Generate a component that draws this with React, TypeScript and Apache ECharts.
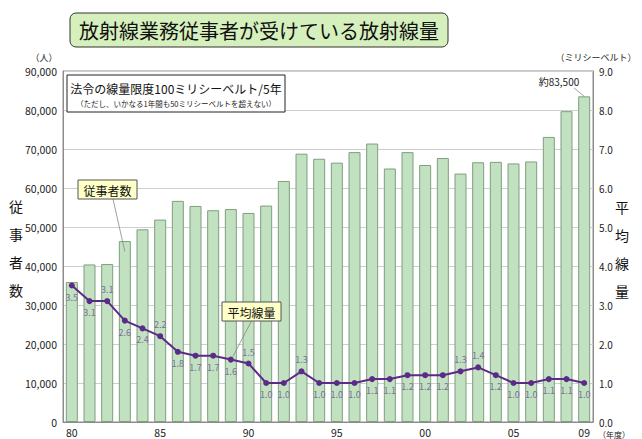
import { useEffect, useRef } from "react";
import * as echarts from "echarts";

const years = ["80","81","82","83","84","85","86","87","88","89","90","91","92","93","94","95","96","97","98","99","00","01","02","03","04","05","06","07","08","09"];
const workers = [35900, 40400, 40500, 46400, 49400, 51900, 56700, 55400, 54300, 54600, 53600, 55500, 61800, 68800, 67500, 66500, 69200, 71400, 65000, 69200, 65900, 67700, 63700, 66600, 66700, 66300, 66800, 73100, 79700, 83500];
const doses = [3.5, 3.1, 3.1, 2.6, 2.4, 2.2, 1.8, 1.7, 1.7, 1.6, 1.5, 1.0, 1.0, 1.3, 1.0, 1.0, 1.0, 1.1, 1.1, 1.2, 1.2, 1.2, 1.3, 1.4, 1.2, 1.0, 1.0, 1.1, 1.1, 1.0];
const doseLabelsAbove = [2, 5, 10, 13, 22, 23];
const shownYearTicks = [0, 5, 10, 15, 20, 25, 29];
const leftTicksMax = 90000;
const rightTicksMax = 9;
const titleText = "放射線業務従事者が受けている放射線量";
const limitText = "法令の線量限度100ミリシーベルト/5年";
const limitNote = "（ただし、いかなる1年間も50ミリシーベルトを超えない）";
const workersCallout = "従事者数";
const doseCallout = "平均線量";
const lastLabel = "約83,500";

const FONT = "'Noto Sans CJK JP', 'Noto Sans', sans-serif";

export default function App() {
  const ref = useRef<HTMLDivElement>(null);
  useEffect(() => {
    if (!ref.current) return;
    const chart = echarts.init(ref.current, null, { renderer: "svg" });
    const fmt = (v: number) => {
      const s = String(v);
      return s.length > 3 ? s.slice(0, s.length - 3) + "," + s.slice(s.length - 3) : s;
    };
    chart.setOption({
      animation: false,
      textStyle: { fontFamily: FONT },
      grid: { left: 63, right: 49, top: 71, bottom: 17, show: true, borderColor: "#8c8c8c", borderWidth: 1 },
      xAxis: {
        type: "category",
        data: years,
        axisLine: { lineStyle: { color: "#8c8c8c" } },
        axisTick: { show: false },
        axisLabel: {
          interval: (i: number) => shownYearTicks.includes(i),
          color: "#222",
          fontSize: 10.5,
          margin: 5,
          fontFamily: FONT,
        },
      },
      yAxis: [
        {
          type: "value",
          min: 0,
          max: leftTicksMax,
          interval: 10000,
          axisLine: { show: true, lineStyle: { color: "#8c8c8c" } },
          axisTick: { show: false },
          axisLabel: { formatter: (v: number) => fmt(v), color: "#222", fontSize: 10.5, margin: 6, fontFamily: FONT },
          splitLine: { lineStyle: { color: "#cfcfcf" } },
        },
        {
          type: "value",
          min: 0,
          max: rightTicksMax,
          interval: 1,
          axisLine: { show: true, lineStyle: { color: "#8c8c8c" } },
          axisTick: { show: false },
          axisLabel: { formatter: (v: number) => v.toFixed(1), color: "#222", fontSize: 10, margin: 6, fontFamily: FONT },
          splitLine: { show: false },
        },
      ],
      series: [
        {
          type: "bar",
          data: workers,
          barWidth: 12,
          itemStyle: { color: "#c1e1c1", borderColor: "#7f9f7f", borderWidth: 1 },
        },
        {
          type: "line",
          yAxisIndex: 1,
          data: doses.map((d, i) => ({
            value: d,
            label: { position: doseLabelsAbove.includes(i) ? "top" : "bottom" },
          })),
          lineStyle: { color: "#5c2a88", width: 2 },
          itemStyle: { color: "#5c2a88" },
          symbol: "circle",
          symbolSize: 6,
          label: {
            show: true,
            formatter: (p: any) => Number(p.value).toFixed(1),
            fontSize: 9,
            color: "#7c6f9c",
            distance: 4,
            fontFamily: FONT,
          },
        },
      ],
    });

    const p83 = chart.convertToPixel({ xAxisIndex: 0, yAxisIndex: 0 }, [3, workers[3] - 2700]) as number[];
    const p89 = chart.convertToPixel({ xAxisIndex: 0, yAxisIndex: 1 }, [9, doses[9]]) as number[];
    const pLast = chart.convertToPixel({ xAxisIndex: 0, yAxisIndex: 0 }, [29, workers[29]]) as number[];

    const vText = (s: string, x: number, y: number) =>
      s.split("").map((c, i) => ({
        type: "text",
        z: 50,
        x,
        y: y + i * 28,
        style: { text: c, fontSize: 14, fill: "#111", fontFamily: FONT, align: "center", verticalAlign: "middle" },
      }));

    chart.setOption({
      graphic: [
        { type: "rect", z: 50, shape: { x: 70, y: 13, width: 378, height: 34, r: 6 }, style: { fill: "#d6f0bd", stroke: "#333", lineWidth: 1 } },
        { type: "text", z: 51, x: 259, y: 30, style: { text: titleText, fontSize: 20, fill: "#111", fontFamily: FONT, align: "center", verticalAlign: "middle" } },
        { type: "text", z: 50, x: 44, y: 57, style: { text: "（人）", fontSize: 9, fill: "#222", fontFamily: FONT, align: "center", verticalAlign: "middle" } },
        { type: "text", z: 50, x: 596, y: 57, style: { text: "（ミリシーベルト）", fontSize: 9, fill: "#222", fontFamily: FONT, align: "center", verticalAlign: "middle" } },
        { type: "text", z: 50, x: 614, y: 434, style: { text: "（年度）", fontSize: 8, fill: "#222", fontFamily: FONT, align: "center", verticalAlign: "middle" } },
        ...vText("従事者数", 16, 206),
        ...vText("平均線量", 622, 207),
        { type: "rect", z: 50, shape: { x: 67, y: 75, width: 218, height: 37 }, style: { fill: "#fff", stroke: "#222", lineWidth: 1 } },
        { type: "text", z: 51, x: 176, y: 88, style: { text: limitText, fontSize: 12, fill: "#111", fontFamily: FONT, align: "center", verticalAlign: "middle" } },
        { type: "text", z: 51, x: 176, y: 103, style: { text: limitNote, fontSize: 7.5, fill: "#222", fontFamily: FONT, align: "center", verticalAlign: "middle" } },
        { type: "line", z: 50, shape: { x1: 113, y1: 199, x2: p83[0], y2: p83[1] }, style: { stroke: "#888", lineWidth: 0.8 } },
        { type: "rect", z: 50, shape: { x: 78, y: 180, width: 59, height: 19 }, style: { fill: "#ffffc8", stroke: "#555", lineWidth: 1 } },
        { type: "text", z: 51, x: 107.5, y: 190, style: { text: workersCallout, fontSize: 12, fill: "#111", fontFamily: FONT, align: "center", verticalAlign: "middle" } },
        { type: "line", z: 50, shape: { x1: 252, y1: 320, x2: p89[0] + 2, y2: p89[1] - 3 }, style: { stroke: "#888", lineWidth: 0.8 } },
        { type: "rect", z: 50, shape: { x: 222, y: 302, width: 59, height: 19 }, style: { fill: "#ffffc8", stroke: "#555", lineWidth: 1 } },
        { type: "text", z: 51, x: 251.5, y: 312, style: { text: doseCallout, fontSize: 12, fill: "#111", fontFamily: FONT, align: "center", verticalAlign: "middle" } },
        { type: "text", z: 50, x: 559, y: 81, style: { text: lastLabel, fontSize: 10, fill: "#222", fontFamily: FONT, align: "center", verticalAlign: "middle" } },
        { type: "line", z: 50, shape: { x1: 574, y1: 88, x2: pLast[0], y2: pLast[1] }, style: { stroke: "#888", lineWidth: 0.8 } },
      ],
    });

    return () => chart.dispose();
  }, []);
  return <div ref={ref} style={{ position: "fixed", left: 0, top: 0, width: 642, height: 439, background: "#fff" }} />;
}
